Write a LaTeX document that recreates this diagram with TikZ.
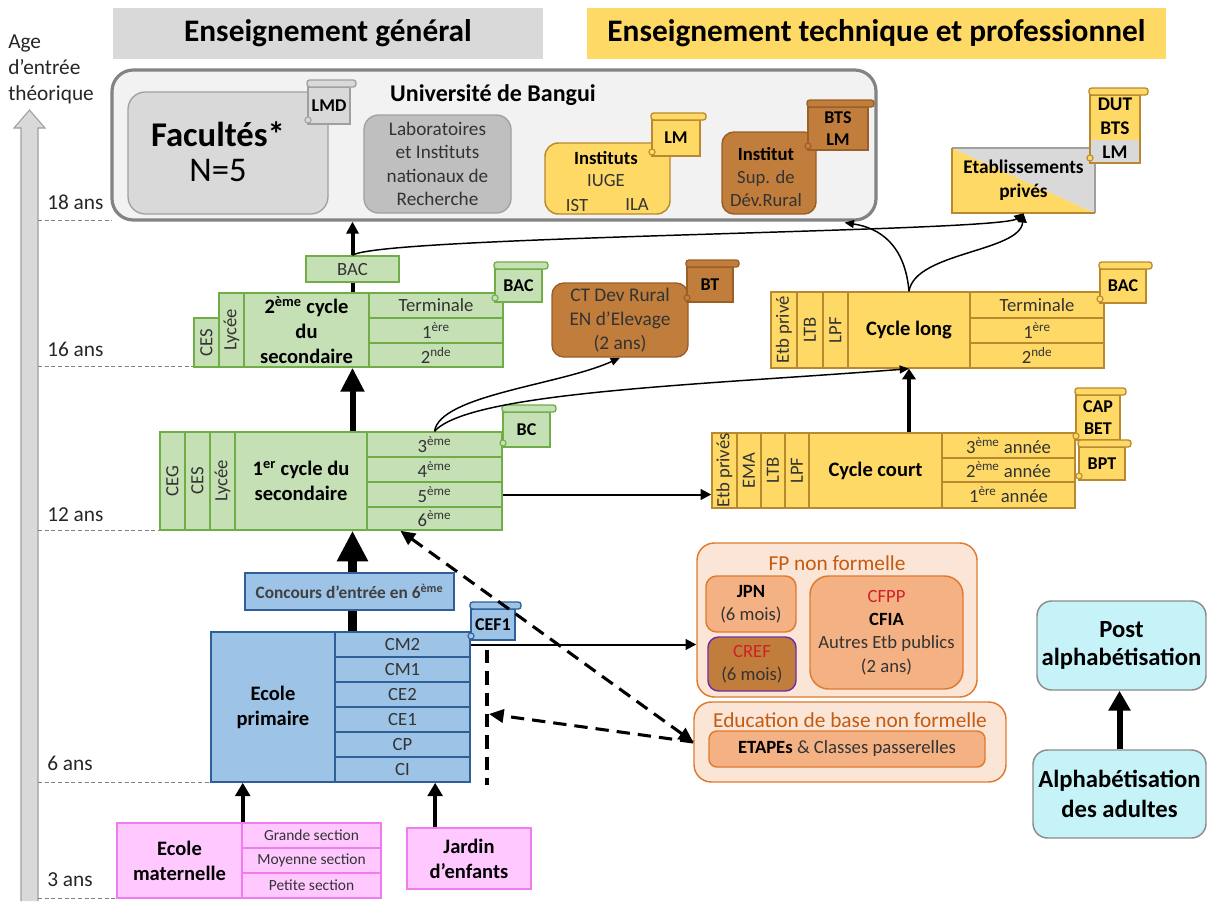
\documentclass[tikz,border=0pt]{standalone}
\usepackage{fontspec}
\setmainfont{Carlito}
\usetikzlibrary{arrows.meta,calc}
\pgfdeclarelayer{bg}
\pgfsetlayers{bg,main}
\definecolor{grn}{HTML}{C5E0B4}\definecolor{grnd}{HTML}{70AD47}
\definecolor{blu}{HTML}{9DC3E6}\definecolor{blud}{HTML}{2E5F96}
\definecolor{pnk}{HTML}{FFC9FF}\definecolor{pnkd}{HTML}{F07CF0}
\definecolor{ylw}{HTML}{FFD966}\definecolor{ylwd}{HTML}{B8892E}
\definecolor{brn}{HTML}{C17D3C}\definecolor{brnd}{HTML}{9A5E27}
\definecolor{peach}{HTML}{FBE5D6}\definecolor{orgd}{HTML}{E07A2E}
\definecolor{org}{HTML}{F4B183}\definecolor{purp}{HTML}{7030A0}
\definecolor{cyn}{HTML}{C6F3F8}\definecolor{cynd}{HTML}{8C8C8C}
\definecolor{txt}{HTML}{333333}\definecolor{redt}{HTML}{D0202A}
\definecolor{orgt}{HTML}{C55A11}\definecolor{hdg}{HTML}{D9D9D9}
\definecolor{unif}{HTML}{F2F2F2}\definecolor{unid}{HTML}{838383}
\definecolor{labf}{HTML}{BFBFBF}\definecolor{gryd}{HTML}{A0A0A0}
\newcommand{\bx}[7]{%
 \pgfmathsetmacro{\bxcx}{(#2+#4)/2}%
 \pgfmathsetmacro{\bxcy}{(#3+#5)/2}%
 \pgfmathsetmacro{\bxw}{(#4-#2)*0.75}%
 \pgfmathsetmacro{\bxh}{(#5-#3)*0.75}%
 \node[inner sep=0pt,align=center,minimum width=\bxw pt,minimum height=\bxh pt,#6] (#1) at (\bxcx,\bxcy) {#7};}
\newcommand{\scrl}[8]{%
 \pgfmathsetmacro{\scya}{#3+7}%
 \bx{#1}{#2}{\scya}{#4}{#5}{fill=#6,draw=#7,line width=1.1pt,font=\bfseries\fontsize{13.5}{17}\selectfont,text=black}{#8}%
 \filldraw[fill=#6,draw=#7,line width=1pt,rounded corners=2pt] (#2-1,#3) rectangle (#4+6,#3+7);%
 \filldraw[fill=#6,draw=#7,line width=0.8pt] (#2,#5-4) circle (2.3pt);%
}
\begin{document}
\begin{tikzpicture}[x=0.75pt,y=-0.75pt,font=\fontsize{14}{17.5}\selectfont,text=txt,
 gbox/.style={fill=grn,draw=grnd,line width=1.1pt},
 bbox/.style={fill=blu,draw=blud,line width=1.1pt},
 pbox/.style={fill=pnk,draw=pnkd,line width=1.1pt},
 ybox/.style={fill=ylw,draw=ylwd,line width=1.1pt},
 rbox/.style={fill=brn,draw=brnd,line width=1.1pt,rounded corners=9pt},
 obox/.style={fill=org,draw=orgd,line width=1.1pt,rounded corners=8pt},
 pchbox/.style={fill=peach,draw=orgd,line width=1.1pt,rounded corners=13pt},
 cbox/.style={fill=cyn,draw=cynd,line width=1.1pt,rounded corners=11pt,font=\bfseries\fontsize{18.5}{21.5}\selectfont,text=black},
 vlab/.style={rotate=90,inner sep=0pt},
 bfl/.style={font=\bfseries\fontsize{15.4}{18.8}\selectfont,text=black},
 smalllab/.style={font=\fontsize{11.6}{14}\selectfont},
 agel/.style={font=\fontsize{16}{19}\selectfont,text=black!85,anchor=west,inner sep=0pt},
 ageline/.style={densely dashed,gray,line width=0.6pt},
 arr/.style={line width=1.5pt,-{Triangle[length=8pt,width=8pt]}},
 curv/.style={line width=1.1pt,-{Triangle[length=7pt,width=6pt]}},
 dsh/.style={line width=2.3pt,dash pattern=on 10pt off 6pt},
 dtip/.style={-{Triangle[length=11pt,width=10pt]}}
]
\useasboundingbox (0,0) rectangle (1208,901);
% headers
\bx{tg}{113}{8}{543}{59}{fill=hdg,font=\bfseries\fontsize{23.5}{28}\selectfont,text=black}{Enseignement général}
\bx{tt}{587}{8}{1166}{59}{fill=ylw,font=\bfseries\fontsize{23.5}{28}\selectfont,text=black}{Enseignement technique et professionnel}
% age axis
\filldraw[fill=hdg,draw=gryd,line width=0.8pt] (21,901) -- (21,128) -- (14,128) -- (29.5,110) -- (45,128) -- (38,128) -- (38,901);
\node[anchor=north west,align=left,font=\fontsize{16}{19.5}\selectfont,text=black!85,inner sep=0pt] (agetitle) at (8,35) {Age\\d'entrée\\théorique};
\node[agel] (a18) at (47,202) {18 ans};
\node[agel] (a16) at (47,349) {16 ans};
\node[agel] (a12) at (47,515) {12 ans};
\node[agel] (a6) at (47,763) {6 ans};
\node[agel] (a3) at (47,880) {3 ans};
\draw[ageline] (38,220) -- (112,220);
\draw[ageline] (38,366) -- (195,366);
\draw[ageline] (38,530) -- (160,530);
\draw[ageline] (38,782) -- (211,782);
\draw[ageline] (38,898) -- (117,898);
% university
\bx{uni}{112}{70}{876}{220}{fill=unif,draw=unid,line width=2.4pt,rounded corners=16pt}{}
\node[font=\bfseries\fontsize{18}{22}\selectfont,text=black] (unit) at (493,95) {Université de Bangui};
\bx{fac}{128}{92}{328}{214}{fill=hdg,draw=gryd,line width=1pt,rounded corners=13pt}{}
\node[align=center,font=\fontsize{26}{26.5}\selectfont,text=black] (fact) at (218,152) {\textbf{Facultés*}\\N=5};
\scrl{lmd}{308}{80}{350}{124}{hdg}{gryd}{LMD}
\bx{lab}{364}{115}{511}{213}{fill=labf,draw=gryd,line width=1pt,rounded corners=11pt,font=\fontsize{14.4}{17.6}\selectfont}{Laboratoires\\et Instituts\\nationaux de\\Recherche}
\bx{ins}{545}{143}{670}{214}{ybox,rounded corners=10pt}{}
\node[font=\bfseries\fontsize{14}{17}\selectfont,text=black] (inst) at (606,158) {Instituts};
\node (iuge) at (606,181) {IUGE};
\node (ist) at (577,205) {IST};
\node (ila) at (637,205) {ILA};
\scrl{lm1}{652}{113}{700}{156}{ylw}{ylwd}{LM}
\bx{isd}{722}{132}{816}{214}{rbox}{}
\node[align=center] (isdt) at (766,177) {\textbf{\color{black}Institut}\\Sup. de\\Dév.Rural};
\scrl{btslm}{808}{100}{868}{150}{brn}{brnd}{BTS\\LM}
% etablissements prives
\fill[ylw] (952,148) -- (952,213) -- (1095,213) -- cycle;
\fill[hdg] (952,148) -- (1095,148) -- (1095,213) -- cycle;
\draw[gryd,line width=1pt] (952,148) -- (1095,148) -- (1095,213);
\draw[ylwd,line width=1pt] (952,148) -- (952,213) -- (1095,213);
\bx{etab}{952}{148}{1095}{213}{font=\bfseries\fontsize{14.5}{18}\selectfont,text=black}{Etablissements\\privés}
\fill[ylw] (1090,95) rectangle (1140,140);
\fill[hdg] (1090,140) rectangle (1140,163);
\draw[ylwd,line width=1pt] (1090,95) rectangle (1140,163);
\filldraw[fill=ylw,draw=ylwd,line width=1pt,rounded corners=2pt] (1089,88) rectangle (1148,95);
\filldraw[fill=ylw,draw=ylwd,line width=0.8pt] (1090,158) circle (2.3pt);
\bx{dut}{1090}{93}{1140}{163}{font=\bfseries\fontsize{14.5}{18}\selectfont,text=black}{DUT\\BTS\\LM}
% BAC
\bx{bac}{306}{256}{399}{282}{gbox}{BAC}
% 2eme cycle
\bx{ces2}{194}{318}{219}{367}{gbox}{}
\bx{lyc2}{219}{293}{244}{367}{gbox}{}
\node[vlab] (ces2t) at (ces2) {CES};
\node[vlab] (lyc2t) at (lyc2) {Lycée};
\bx{cyc2}{244}{293}{369}{367}{gbox,bfl}{2\textsuperscript{ème} cycle\\du\\secondaire}
\bx{term2}{369}{293}{503}{318}{gbox}{Terminale}
\bx{pre2}{369}{318}{503}{343}{gbox}{1\textsuperscript{ère}}
\bx{sec2}{369}{343}{503}{367}{gbox}{2\textsuperscript{nde}}
\scrl{bacs}{495}{262}{542}{302}{grn}{grnd}{BAC}
% 1er cycle
\bx{ceg}{160}{432}{185}{530}{gbox}{}
\bx{ces1}{185}{432}{210}{530}{gbox}{}
\bx{lyc1}{210}{432}{235}{530}{gbox}{}
\node[vlab] (cegt) at (ceg) {CEG};
\node[vlab] (ces1t) at (ces1) {CES};
\node[vlab] (lyc1t) at (lyc1) {Lycée};
\bx{cyc1}{235}{432}{367}{530}{gbox,bfl}{1\textsuperscript{er} cycle du\\secondaire}
\bx{r3}{367}{432}{502}{457}{gbox}{3\textsuperscript{ème}}
\bx{r4}{367}{457}{502}{482}{gbox}{4\textsuperscript{ème}}
\bx{r5}{367}{482}{502}{507}{gbox}{5\textsuperscript{ème}}
\bx{r6}{367}{507}{502}{530}{gbox}{6\textsuperscript{ème}}
\scrl{bc}{503}{405}{550}{447}{grn}{grnd}{BC}
% CT Dev Rural
\bx{ct}{552}{283}{688}{357}{rbox,font=\fontsize{14.5}{18}\selectfont}{CT Dev Rural\\EN d'Elevage\\(2 ans)}
\scrl{bt}{687}{260}{733}{302}{brn}{brnd}{BT}
% cycle long
\bx{etbl}{771}{292}{797}{368}{ybox}{}
\bx{ltbl}{797}{292}{823}{368}{ybox}{}
\bx{lpfl}{823}{292}{848}{368}{ybox}{}
\node[vlab] (etblt) at (etbl) {Etb privé};
\node[vlab] (ltblt) at (ltbl) {LTB};
\node[vlab] (lpflt) at (lpfl) {LPF};
\bx{cyl}{848}{292}{970}{368}{ybox,bfl}{Cycle long}
\bx{lterm}{970}{292}{1104}{318}{ybox}{Terminale}
\bx{lpre}{970}{318}{1104}{343}{ybox}{1\textsuperscript{ère}}
\bx{lsec}{970}{343}{1104}{368}{ybox}{2\textsuperscript{nde}}
\scrl{bacl}{1100}{262}{1146}{303}{ylw}{ylwd}{BAC}
% cycle court
\bx{etbc}{712}{433}{737}{508}{ybox}{}
\bx{ema}{737}{433}{761}{508}{ybox}{}
\bx{ltbc}{761}{433}{785}{508}{ybox}{}
\bx{lpfc}{785}{433}{809}{508}{ybox}{}
\node[vlab] (etbct) at (etbc) {Etb privés};
\node[vlab] (emat) at (ema) {EMA};
\node[vlab] (ltbct) at (ltbc) {LTB};
\node[vlab] (lpfct) at (lpfc) {LPF};
\bx{cyc}{809}{433}{942}{508}{ybox,bfl}{Cycle court}
\bx{a3}{942}{433}{1075}{458}{ybox}{3\textsuperscript{ème} année}
\bx{a2}{942}{458}{1075}{482}{ybox}{2\textsuperscript{ème} année}
\bx{a1}{942}{482}{1075}{508}{ybox}{1\textsuperscript{ère} année}
\scrl{capbet}{1076}{388}{1120}{440}{ylw}{ylwd}{CAP\\BET}
\scrl{bpt}{1079}{440}{1125}{480}{ylw}{ylwd}{BPT}
% concours
\bx{conc}{245}{573}{454}{610}{bbox,font=\bfseries\fontsize{13}{16}\selectfont,text=black!75}{Concours d'entrée en 6\textsuperscript{ème}}
% primaire
\bx{prim}{211}{632}{335}{782}{bbox,bfl}{Ecole\\primaire}
\bx{cm2}{335}{632}{470}{657}{bbox}{CM2}
\bx{cm1}{335}{657}{470}{682}{bbox}{CM1}
\bx{ce2}{335}{682}{470}{707}{bbox}{CE2}
\bx{ce1}{335}{707}{470}{732}{bbox}{CE1}
\bx{cp}{335}{732}{470}{757}{bbox}{CP}
\bx{ci}{335}{757}{470}{782}{bbox}{CI}
\scrl{cef}{471}{602}{515}{640}{blu}{blud}{CEF1}
% maternelle, jardin
\bx{mat}{117}{823}{242}{898}{pbox,bfl}{Ecole\\maternelle}
\bx{gs}{242}{823}{381}{848}{pbox,smalllab}{Grande section}
\bx{ms}{242}{848}{381}{873}{pbox,smalllab}{Moyenne section}
\bx{ps}{242}{873}{381}{898}{pbox,smalllab}{Petite section}
\bx{jar}{407}{828}{531}{889}{pbox,bfl}{Jardin\\d'enfants}
% FP non formelle
\bx{fp}{697}{543}{977}{697}{pchbox}{}
\node[font=\fontsize{16}{19}\selectfont,text=orgt] (fpt) at (837,563) {FP non formelle};
\bx{jpn}{706}{576}{796}{632}{obox}{\textbf{\color{black}JPN}\\(6 mois)}
\bx{cref}{708}{637}{796}{691}{fill=brn,draw=purp,line width=1.1pt,rounded corners=8pt}{\textcolor{redt}{CREF}\\(6 mois)}
\bx{cfpp}{810}{576}{963}{689}{obox,rounded corners=14pt}{\textcolor{redt}{CFPP}\\\textbf{\color{black}CFIA}\\Autres Etb publics\\(2 ans)}
\bx{edu}{694}{702}{1006}{782}{pchbox}{}
\node[font=\fontsize{16}{19}\selectfont,text=orgt] (edut) at (850,720) {Education de base non formelle};
\bx{etap}{709}{731}{985}{767}{obox,rounded corners=6pt}{\textbf{\color{black}ETAPEs} \& Classes passerelles}
% alphabetisation
\bx{post}{1037}{601}{1206}{690}{cbox}{Post\\alphabétisation}
\bx{alpha}{1033}{750}{1206}{838}{cbox,font=\bfseries\fontsize{18.5}{22.5}\selectfont}{Alphabétisation\\des adultes}
% connectors
\begin{pgfonlayer}{bg}
\draw[line width=3pt,-{Triangle[length=9pt,width=9pt]}] (cyc2.north -| bac.center) -- (uni.south -| bac.center);
\draw[line width=4.5pt,-{Triangle[length=18pt,width=17pt]}] (cyc1.north -| bac.center) -- (cyc2.south -| bac.center);
\draw[line width=7pt,-{Triangle[length=23pt,width=22pt]}] (cm2.north -| bac.center) -- (cyc1.south -| bac.center);
\end{pgfonlayer}
\draw[line width=3pt,-{Triangle[length=8pt,width=10pt]}] (cyc.north -| cyl.center) -- (cyl.south);
\draw[line width=2.8pt,-{Triangle[length=10pt,width=11pt]}] (mat.north east) -- (mat.north east |- prim.south);
\coordinate (jx) at ($(jar.north west)!0.23!(jar.north east)$);
\draw[line width=2.8pt,-{Triangle[length=10pt,width=11pt]}] (jx) -- (jx |- ci.south);
\draw[line width=4.5pt,-{Triangle[length=15pt,width=16pt]}] (alpha.north) -- (alpha.north |- post.south);
\draw[arr] (r5.east) -- (r5.east -| etbc.west);
\draw[arr] (cm2.east) -- (cm2.east -| fp.west);
\draw[curv] (bac.north) .. controls (380,236) and (1000,232) .. (etab.south);
\coordinate (unir) at ($(uni.south east)+(-33,1)$);
\draw[curv] (cyl.north) .. controls (905,245) and (880,228) .. (unir);
\draw[curv] (cyl.north) .. controls (915,252) and (1020,252) .. (etab.south);
\draw[curv] (r3.north) .. controls (440,395) and (560,385) .. (ct.south);
\draw[curv] (r3.north) .. controls (470,392) and (700,385) .. (cyl.south);
\coordinate (d6) at ($(r6.south west)!0.25!(r6.south east)$);
\draw[dsh,{Triangle[length=11pt,width=10pt]}-{Triangle[length=11pt,width=10pt]}] (d6) -- (edu.west);
\coordinate (vt) at (487,650);
\coordinate (vb) at (487,785);
\draw[dsh] (vt) -- (vb);
\coordinate (vm) at (489,714);
\draw[dsh,dtip] (edu.west) -- (vm);
\end{tikzpicture}
\end{document}
